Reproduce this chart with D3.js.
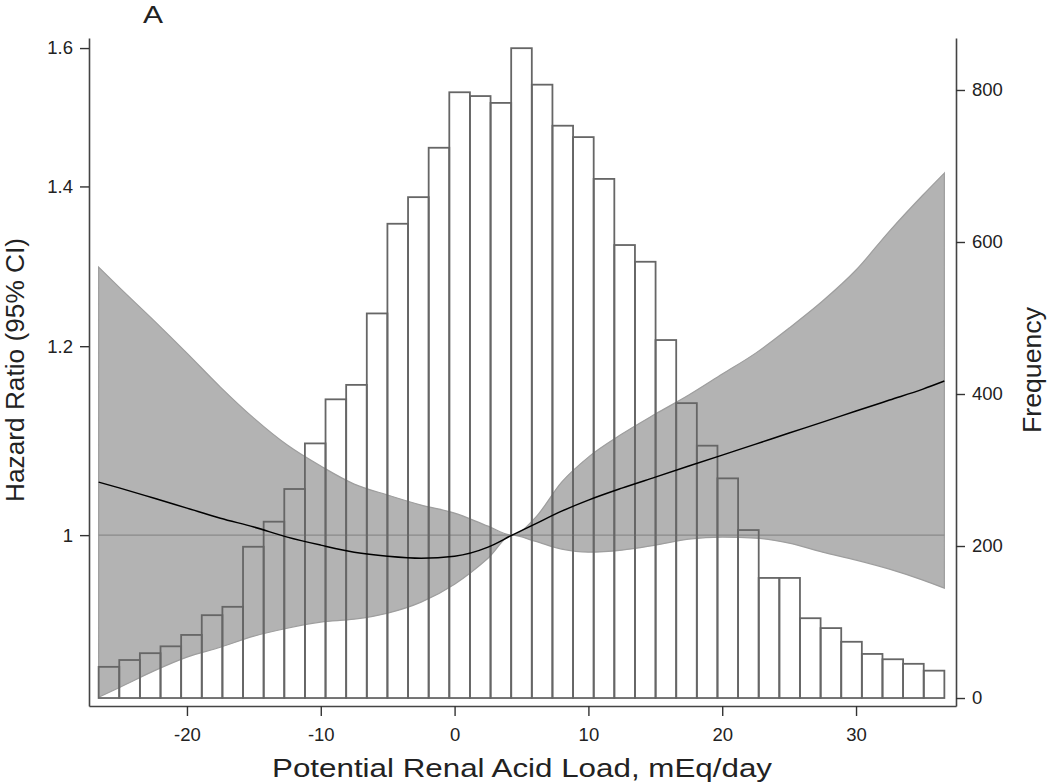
<!DOCTYPE html>
<html>
<head>
<meta charset="utf-8">
<script src="https://cdn.jsdelivr.net/npm/d3@7/dist/d3.min.js"></script>
<style>
  html, body { margin: 0; padding: 0; background: #fff; }
  svg { display: block; }
  text { font-family: "Liberation Sans", Arial, sans-serif; fill: #222; }
</style>
</head>
<body>
<svg id="chart" width="1050" height="782"></svg>
<script>
// ---------- data ----------
const panelLabel = "A";
const xTitle = "Potential Renal Acid Load, mEq/day";
const yLeftTitle = "Hazard Ratio (95% CI)";
const yRightTitle = "Frequency";

// histogram of PRAL (41 bins)
const binStart = -26.6;
const binEnd = 36.6;
const freq = [41,50,59,68,83,109,120,199,232,275,335,393,412,506,624,659,724,797,792,783,
              855,807,753,738,683,596,574,471,388,332,289,221,158,158,105,92,74,58,51,45,36];

// spline hazard ratio and 95% CI
const pral   = [-26.6,-25,-22.5,-20,-17.5,-15,-12.5,-10,-7.5,-5,-2.5,0,2.5,4.3,6,8,10,12.5,15,17.5,20,22.5,25,27.5,30,32.5,35,36.6];
const hr     = [1.0525,1.0464,1.0364,1.0264,1.0165,1.0078,0.9981,0.9904,0.9837,0.9799,0.9780,0.9799,0.9885,1.0000,
                1.0107,1.0234,1.0344,1.0464,1.0576,1.0689,1.0803,1.0918,1.1035,1.1152,1.1272,1.1392,1.1513,1.1603];
const ciHigh = [1.2952,1.2692,1.2306,1.1920,1.1536,1.1195,1.0908,1.0689,1.0505,1.0394,1.0294,1.0215,1.0087,1.0000,
                1.0165,1.0525,1.0782,1.1024,1.1239,1.1447,1.1681,1.1920,1.2212,1.2534,1.2915,1.3410,1.3885,1.4182];
const ciLow  = [0.8552,0.8635,0.8770,0.8889,0.8975,0.9071,0.9141,0.9195,0.9221,0.9275,0.9374,0.9538,0.9780,1.0000,
                0.9942,0.9866,0.9837,0.9856,0.9904,0.9961,0.9981,0.9971,0.9923,0.9837,0.9762,0.9677,0.9575,0.9501];

const xTicks = [-20,-10,0,10,20,30];
const yLeftTicks = [1,1.2,1.4,1.6];
const yRightTicks = [0,200,400,600,800];

// ---------- layout ----------
const plot = {left: 89, right: 956, top: 38, bottom: 706};
const svg = d3.select("#chart");

const x = d3.scaleLinear().domain([-27.32, 37.47]).range([plot.left, plot.right]);
const yL = d3.scaleLog().domain([0.848, 1.6156]).range([plot.bottom, plot.top]);
const yR = d3.scaleLinear().domain([-10.5, 868.4]).range([plot.bottom, plot.top]);

const binW = (binEnd - binStart) / freq.length;
const bins = freq.map((f, i) => ({x0: binStart + i * binW, x1: binStart + (i + 1) * binW, f}));
const curve = pral.map((p, i) => ({p, hr: hr[i], lo: ciLow[i], hi: ciHigh[i]}));

// CI band
svg.append("path")
  .datum(curve)
  .attr("d", d3.area().x(d => x(d.p)).y0(d => yL(d.lo)).y1(d => yL(d.hi)).curve(d3.curveMonotoneX))
  .attr("fill", "#b3b3b3")
  .attr("stroke", "#9e9e9e")
  .attr("stroke-width", 1.2);

// reference line HR = 1
svg.append("line")
  .attr("x1", x(binStart)).attr("x2", x(binEnd))
  .attr("y1", yL(1)).attr("y2", yL(1))
  .attr("stroke", "#8a8a8a").attr("stroke-width", 1.3);

// histogram bars (outline only)
svg.append("g").selectAll("rect").data(bins).join("rect")
  .attr("x", d => x(d.x0))
  .attr("width", d => x(d.x1) - x(d.x0))
  .attr("y", d => yR(d.f))
  .attr("height", d => yR(0) - yR(d.f))
  .attr("fill", "none")
  .attr("stroke", "#666")
  .attr("stroke-width", 1.8);

// HR line
svg.append("path")
  .datum(curve)
  .attr("d", d3.line().x(d => x(d.p)).y(d => yL(d.hr)).curve(d3.curveMonotoneX))
  .attr("fill", "none")
  .attr("stroke", "#000")
  .attr("stroke-width", 1.5);

// ---------- axes ----------
function styleAxis(g) {
  g.select(".domain").attr("stroke", "#444").attr("stroke-width", 1.6);
  g.selectAll(".tick line").attr("stroke", "#333").attr("stroke-width", 1.4);
  g.selectAll(".tick text").attr("font-size", "18.5px").attr("fill", "#222")
    .attr("font-family", "'Liberation Sans', Arial, sans-serif");
}

svg.append("g")
  .attr("transform", `translate(${plot.left},0)`)
  .call(d3.axisLeft(yL).tickValues(yLeftTicks).tickFormat(d => d === 1 ? "1" : d3.format(".1f")(d))
        .tickSize(9).tickSizeOuter(0).tickPadding(7))
  .call(styleAxis);

svg.append("g")
  .attr("transform", `translate(${plot.right},0)`)
  .call(d3.axisRight(yR).tickValues(yRightTicks).tickFormat(d => String(d))
        .tickSize(9).tickSizeOuter(0).tickPadding(7))
  .call(styleAxis);

svg.append("g")
  .attr("transform", `translate(0,${plot.bottom})`)
  .call(d3.axisBottom(x).tickValues(xTicks).tickFormat(d => String(d))
        .tickSize(10).tickSizeOuter(0).tickPadding(12))
  .call(styleAxis);

// ---------- titles ----------
svg.append("text").attr("x", 153).attr("y", 23).attr("text-anchor", "middle")
  .attr("font-size", "24px").attr("textLength", 20).attr("lengthAdjust", "spacingAndGlyphs")
  .text(panelLabel);

svg.append("text").attr("x", 522).attr("y", 777).attr("text-anchor", "middle")
  .attr("font-size", "26px").attr("textLength", 500).attr("lengthAdjust", "spacingAndGlyphs")
  .text(xTitle);

svg.append("text").attr("transform", "translate(24,370) rotate(-90)").attr("text-anchor", "middle")
  .attr("font-size", "26px").attr("textLength", 264).attr("lengthAdjust", "spacingAndGlyphs")
  .text(yLeftTitle);

svg.append("text").attr("transform", "translate(1041,370) rotate(-90)").attr("text-anchor", "middle")
  .attr("font-size", "26px").attr("textLength", 126).attr("lengthAdjust", "spacingAndGlyphs")
  .text(yRightTitle);
</script>
</body>
</html>
